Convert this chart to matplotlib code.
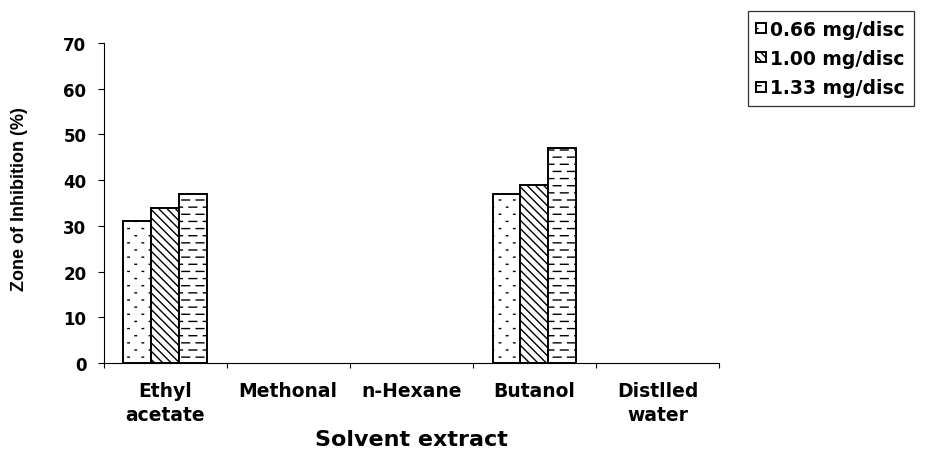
"""Zone of inhibition by solvent extract, three disc loadings (grouped bars)."""
import warnings

import numpy as np
import matplotlib
matplotlib.use("Agg")
import matplotlib.pyplot as plt
from matplotlib import hatch as mhatch
from matplotlib.path import Path

warnings.filterwarnings("ignore", message="hatch must consist")

# ----------------------------------------------------------------
# Data
# ----------------------------------------------------------------
solvents = ["Ethyl\nacetate", "Methonal", "n-Hexane", "Butanol", "Distlled\nwater"]
doses = ["0.66 mg/disc", "1.00 mg/disc", "1.33 mg/disc"]
inhibition_066 = [31, 0, 0, 37, 0]
inhibition_100 = [34, 0, 0, 39, 0]
inhibition_133 = [37, 0, 0, 47, 0]
y_ticks = [0, 10, 20, 30, 40, 50, 60, 70]


# ----------------------------------------------------------------
# Excel-like fills: staggered dots (':') and staggered dashes ('_')
# ----------------------------------------------------------------
class StaggeredMarks(mhatch.HatchPatternBase):
    def __init__(self, hatch, density):
        self.n = 0
        self.half = 0.0
        if "_" in hatch:
            self.n, self.half = 7, 0.27
        elif ":" in hatch:
            self.n, self.half = 7, 0.05
        if self.n:
            count = sum(self.n + 1 if r % 2 == 0 else self.n for r in range(2 * self.n + 1))
            self.num_vertices = 2 * count
        else:
            self.num_vertices = 0

    def set_vertices_and_codes(self, vertices, codes):
        step = 1.0 / self.n
        half = self.half * step
        k = 0
        for r in range(2 * self.n + 1):
            y = r * step / 2
            if r % 2 == 0:
                xs = np.arange(self.n + 1) * step
            else:
                xs = (np.arange(self.n) + 0.5) * step
            for x in xs:
                vertices[k] = (x - half, y)
                vertices[k + 1] = (x + half, y)
                codes[k] = Path.MOVETO
                codes[k + 1] = Path.LINETO
                k += 2


mhatch._hatch_types.append(StaggeredMarks)

plt.rcParams["font.family"] = ["DejaVu Sans"]
plt.rcParams["font.weight"] = "bold"
plt.rcParams["axes.labelweight"] = "bold"
plt.rcParams["hatch.linewidth"] = 1.0

# ----------------------------------------------------------------
# Figure
# ----------------------------------------------------------------
fig = plt.figure(figsize=(9.31, 4.52), dpi=100)
ax = fig.add_axes([0.1112, 0.1947, 0.6611, 0.708])

x = np.arange(len(solvents))
w = 0.226
series = [inhibition_066, inhibition_100, inhibition_133]
hatches = [":", "\\\\\\\\", "_"]
for i, (vals, h, lab) in enumerate(zip(series, hatches, doses)):
    bars = ax.bar(x + (i - 1) * w, vals, width=w, color="white", edgecolor="black",
                  linewidth=1.4, hatch=h, label=lab)
    # empty groups show nothing in the original, not even a flat outline
    for b, v in zip(bars, vals):
        if v == 0:
            b.set_visible(False)

ax.set_xlim(-0.5, len(solvents) - 0.5)
ax.set_ylim(0, 70)
ax.set_yticks(y_ticks)
ax.tick_params(axis="y", direction="out", length=4.3, width=0.8, pad=8, labelsize=12)

ax.set_xticks(x)
ax.set_xticklabels(solvents, linespacing=1.3)
ax.set_xticks(np.arange(len(solvents) + 1) - 0.5, minor=True)
ax.tick_params(axis="x", which="major", length=0, pad=13, labelsize=13.5)
ax.tick_params(axis="x", which="minor", direction="out", length=3.5, width=0.8)

for side in ["top", "right"]:
    ax.spines[side].set_visible(False)
for side in ["left", "bottom"]:
    ax.spines[side].set_linewidth(0.8)

ax.set_xlabel("Solvent extract", fontsize=16, labelpad=4)
ax.set_ylabel("Zone of Inhibition (%)", fontsize=13, family="Liberation Sans")
ax.yaxis.set_label_coords(-0.1227, 0.516)

leg = fig.legend(loc="upper left", bbox_to_anchor=(748 / 931, 1 - 12.3 / 452),
                 bbox_transform=fig.transFigure, fontsize=13.5, frameon=True,
                 fancybox=False, borderpad=0.45, labelspacing=0.55,
                 handlelength=0.5, handleheight=0.45, handletextpad=0.25,
                 borderaxespad=0)
leg.get_frame().set_edgecolor("black")
leg.get_frame().set_linewidth(0.9)

fig.savefig("out.png", dpi=100)
plt.close(fig)
